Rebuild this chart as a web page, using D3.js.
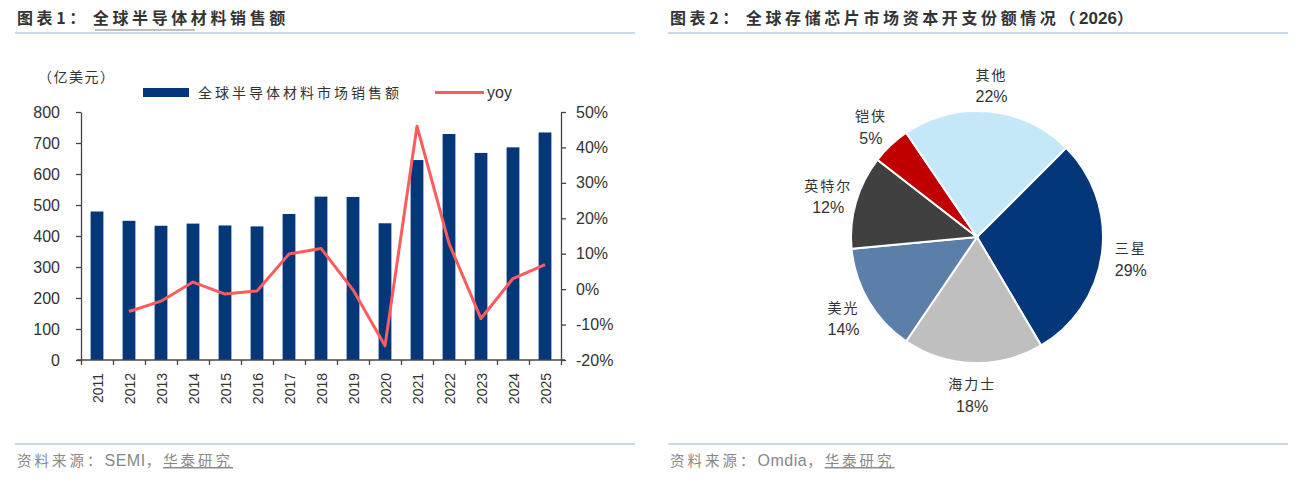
<!DOCTYPE html>
<html>
<head>
<meta charset="utf-8">
<script src="https://cdn.jsdelivr.net/npm/d3@7/dist/d3.min.js"></script>
<style>
  body { margin: 0; background: #fff; }
  svg { display: block; }
  .cn { font-family: "Noto Sans CJK SC", "Noto Sans", sans-serif; }
  .num { font-family: "Liberation Sans", Arial, sans-serif; }
</style>
</head>
<body>
<svg id="chart" width="1300" height="482"></svg>
<script>
// chart 1: 全球半导体材料销售额
var years = ["2011","2012","2013","2014","2015","2016","2017","2018","2019","2020","2021","2022","2023","2024","2025"];
var sales = [479, 449, 433, 440, 434, 431, 471, 527, 526, 441, 645, 729, 668, 686, 734];
var yoy = [null, -6.3, -3.4, 2.0, -1.4, -0.5, 9.9, 11.5, -0.2, -16.0, 46.0, 12.9, -8.3, 3.0, 6.9];
var leftTicks = [0, 100, 200, 300, 400, 500, 600, 700, 800];
var rightTicks = [-20, -10, 0, 10, 20, 30, 40, 50];

// chart 2: 全球存储芯片市场资本开支份额情况（2026）
var makers = ["三星", "海力士", "美光", "英特尔", "铠侠", "其他"];
var shares = [29, 18, 14, 12, 5, 22];
var sliceColors = ["#03377a", "#bfbfbf", "#5b7fa8", "#404040", "#c00000", "#c5e8f8"];

var svg = d3.select("#chart");

function header(x0, x1, label, title, year) {
  var t = svg.append("text").attr("class", "cn")
    .attr("x", x0 + 2).attr("y", 24)
    .attr("font-size", 16).attr("font-weight", "bold")
    .attr("fill", "#333").attr("letter-spacing", 3.6);
  t.append("tspan").text(label);
  t.append("tspan").attr("dx", 4).text(title);
  if (year) {
    t.append("tspan").text("（");
    t.append("tspan").attr("class", "num").attr("letter-spacing", 0).attr("font-size", 17).text(year);
    t.append("tspan").text("）");
  }
  svg.append("line").attr("x1", x0).attr("x2", x1).attr("y1", 33).attr("y2", 33)
    .attr("stroke", "#b9cce4").attr("stroke-width", 1.5);
  svg.append("line").attr("x1", x0).attr("x2", x1).attr("y1", 444).attr("y2", 444)
    .attr("stroke", "#b9cce4").attr("stroke-width", 1.5);
}

function footer(x0, src) {
  var t = svg.append("text").attr("class", "cn")
    .attr("x", x0 + 2).attr("y", 466)
    .attr("font-size", 14.5).attr("fill", "#888").attr("letter-spacing", 3);
  t.append("tspan").text("资料来源：");
  t.append("tspan").attr("class", "num").attr("letter-spacing", 0.5).attr("font-size", 16).text(src);
  t.append("tspan").text("，");
  t.append("tspan").attr("text-decoration", "underline").text("华泰研究");
}

header(15, 635, "图表1：", "全球半导体材料销售额");
header(668, 1288, "图表2：", "全球存储芯片市场资本开支份额情况", "2026");
footer(15, "SEMI");
footer(668, "Omdia");

// underline part of title 1
svg.append("line").attr("x1", 95).attr("x2", 195).attr("y1", 30).attr("y2", 30)
  .attr("stroke", "#aaa").attr("stroke-width", 1.5);

// ---- bar + line chart ----
var x = d3.scaleBand().domain(years).range([81, 561]).paddingInner(0.6).paddingOuter(0.3);
var y = d3.scaleLinear().domain([0, 800]).range([360, 112]);
var y2 = d3.scaleLinear().domain([-20, 50]).range([360, 112]);
var xEdge = d3.scaleLinear().domain([0, years.length]).range([81, 561]);

var g = svg.append("g");

g.selectAll(".bar")
  .data(years)
  .enter().append("rect")
  .attr("class", "bar")
  .attr("x", function(d) { return x(d); })
  .attr("y", function(d, i) { return y(sales[i]); })
  .attr("width", x.bandwidth())
  .attr("height", function(d, i) { return y(0) - y(sales[i]); })
  .attr("fill", "#03377a");

var line = d3.line()
  .defined(function(d) { return d.v != null; })
  .x(function(d) { return x(d.year) + x.bandwidth() / 2; })
  .y(function(d) { return y2(d.v); });

g.append("path")
  .datum(years.map(function(d, i) { return {year: d, v: yoy[i]}; }))
  .attr("d", line)
  .attr("fill", "none")
  .attr("stroke", "#fb5d5d")
  .attr("stroke-width", 3)
  .attr("stroke-linejoin", "round");

// axes
var axisColor = "#444";
var yAxis = g.append("g")
  .attr("transform", "translate(81,0)")
  .call(d3.axisLeft(y).tickValues(leftTicks).tickSize(5).tickPadding(16).tickSizeOuter(0));
var y2Axis = g.append("g")
  .attr("transform", "translate(561,0)")
  .call(d3.axisRight(y2).tickValues(rightTicks).tickSize(5).tickPadding(10).tickSizeOuter(0)
    .tickFormat(function(d) { return d + "%"; }));
var xTicks = g.append("g")
  .attr("transform", "translate(0,360)")
  .call(d3.axisBottom(xEdge).ticks(years.length).tickSize(5).tickFormat("").tickSizeOuter(0));
var xAxis = g.append("g")
  .attr("transform", "translate(0,360)")
  .call(d3.axisBottom(x).tickSize(0).tickSizeOuter(0));

xAxis.select(".domain").remove();
xTicks.select(".domain").attr("d", "M77,0H565");
xAxis.selectAll("text")
  .attr("transform", "rotate(-90)")
  .attr("text-anchor", "end")
  .attr("x", -13)
  .attr("y", 1)
  .attr("dy", "0.35em")
  .attr("dx", 0);

[yAxis, y2Axis, xTicks, xAxis].forEach(function(a) {
  a.selectAll("path, line").attr("stroke", axisColor).attr("stroke-width", 1.3);
  a.selectAll("text").attr("class", "num").attr("fill", "#333");
});
yAxis.selectAll("text").attr("font-size", 16);
y2Axis.selectAll("text").attr("font-size", 16);
xAxis.selectAll("text").attr("font-size", 14);

// unit + legend
svg.append("text").attr("class", "cn").attr("x", 38).attr("y", 82)
  .attr("font-size", 14).attr("fill", "#333").attr("letter-spacing", 1.5).text("（亿美元）");

svg.append("rect").attr("x", 143).attr("y", 88).attr("width", 46).attr("height", 9).attr("fill", "#03377a");
svg.append("text").attr("class", "cn").attr("x", 198).attr("y", 98)
  .attr("font-size", 14).attr("fill", "#333").attr("letter-spacing", 3).text("全球半导体材料市场销售额");
svg.append("line").attr("x1", 435).attr("x2", 484).attr("y1", 92.5).attr("y2", 92.5)
  .attr("stroke", "#fb5d5d").attr("stroke-width", 3);
svg.append("text").attr("class", "num").attr("x", 487).attr("y", 98)
  .attr("font-size", 16).attr("fill", "#333").text("yoy");

// ---- pie chart ----
var cx = 977, cy = 237, r = 126;
var pie = d3.pie().sort(null)
  .startAngle(45 * Math.PI / 180)
  .endAngle(45 * Math.PI / 180 + 2 * Math.PI);
var arcs = pie(shares);
var arc = d3.arc().innerRadius(0).outerRadius(r);
var labelArc = d3.arc().innerRadius(155).outerRadius(155);

var pg = svg.append("g").attr("transform", "translate(" + cx + "," + cy + ")");
pg.selectAll("path.slice")
  .data(arcs)
  .enter().append("path")
  .attr("class", "slice")
  .attr("d", arc)
  .attr("fill", function(d, i) { return sliceColors[i]; })
  .attr("stroke", "#fff")
  .attr("stroke-width", 2);

var lab = pg.selectAll("g.lab")
  .data(arcs)
  .enter().append("g")
  .attr("class", "lab")
  .attr("transform", function(d) {
    var c = labelArc.centroid(d);
    return "translate(" + c[0] + "," + (c[1] + 3) + ")";
  });
lab.append("text").attr("class", "cn")
  .attr("text-anchor", "middle").attr("y", -11).attr("dy", "0.35em")
  .attr("font-size", 14).attr("fill", "#333").attr("letter-spacing", 2)
  .text(function(d, i) { return makers[i]; });
lab.append("text").attr("class", "num")
  .attr("text-anchor", "middle").attr("y", 11).attr("dy", "0.35em")
  .attr("font-size", 16).attr("fill", "#333")
  .text(function(d) { return d.data + "%"; });
</script>
</body>
</html>
